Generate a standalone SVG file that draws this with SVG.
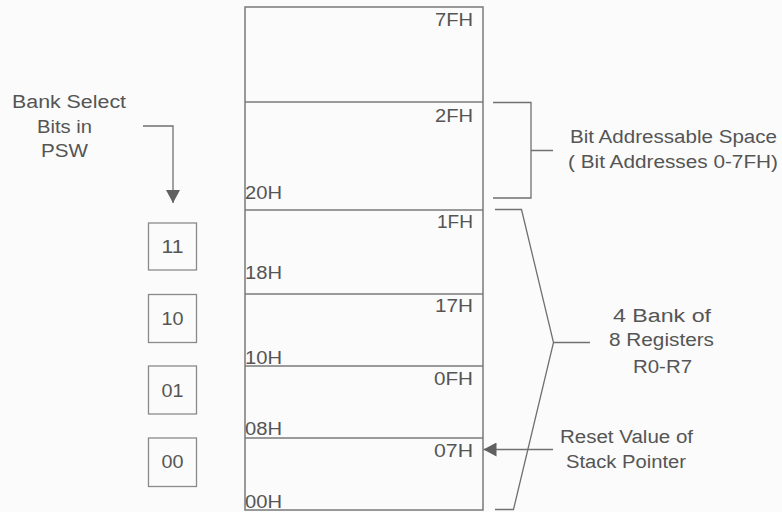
<svg xmlns="http://www.w3.org/2000/svg" width="782" height="512" viewBox="0 0 782 512">
<style>
text{font-family:"Liberation Sans",Arial,sans-serif;fill:#555;font-size:18px}
.m{font-size:17.5px}
.ln{fill:none;stroke:#7a7a7a;stroke-width:1.5}
.br{fill:none;stroke:#707070;stroke-width:1.3}
.bx{fill:none;stroke:#8a8a8a;stroke-width:1.3}
.c{text-anchor:middle}
</style>
<defs>
<marker id="ah" markerWidth="14" markerHeight="14" refX="13" refY="7" orient="auto" markerUnits="userSpaceOnUse">
<path d="M0,0 L13,7 L0,14 Z" fill="#606060"/>
</marker>
</defs>
<rect width="782" height="512" fill="#fbfbfb"/>

<g id="memory">
<rect class="ln" x="245" y="7" width="238" height="503"/>
<line class="ln" x1="245" y1="102" x2="483" y2="102"/>
<line class="ln" x1="245" y1="210" x2="483" y2="210"/>
<line class="ln" x1="245" y1="294" x2="483" y2="294"/>
<line class="ln" x1="245" y1="366" x2="483" y2="366"/>
<line class="ln" x1="245" y1="438" x2="483" y2="438"/>
<text class="m" x="435" y="26" textLength="38" lengthAdjust="spacingAndGlyphs">7FH</text>
<text class="m" x="435" y="122" textLength="38" lengthAdjust="spacingAndGlyphs">2FH</text>
<text class="m" x="245" y="199" textLength="37" lengthAdjust="spacingAndGlyphs">20H</text>
<text class="m" x="437" y="228" textLength="36" lengthAdjust="spacingAndGlyphs">1FH</text>
<text class="m" x="245" y="279" textLength="37" lengthAdjust="spacingAndGlyphs">18H</text>
<text class="m" x="435" y="312" textLength="38" lengthAdjust="spacingAndGlyphs">17H</text>
<text class="m" x="245" y="364" textLength="37" lengthAdjust="spacingAndGlyphs">10H</text>
<text class="m" x="434" y="385" textLength="39" lengthAdjust="spacingAndGlyphs">0FH</text>
<text class="m" x="245" y="435" textLength="37" lengthAdjust="spacingAndGlyphs">08H</text>
<text class="m" x="434" y="457" textLength="39" lengthAdjust="spacingAndGlyphs">07H</text>
<text class="m" x="245" y="508" textLength="37" lengthAdjust="spacingAndGlyphs">00H</text>
</g>

<g id="bank-select-label">
<text x="12" y="108" textLength="114" lengthAdjust="spacingAndGlyphs">Bank  Select</text>
<text x="37" y="133" textLength="55" lengthAdjust="spacingAndGlyphs">Bits in</text>
<text x="41" y="157" textLength="47" lengthAdjust="spacingAndGlyphs">PSW</text>
</g>

<g id="box-11"><rect class="bx" x="148.5" y="223" width="48" height="47"/><text class="c" x="172.5" y="253" textLength="22" lengthAdjust="spacingAndGlyphs">11</text></g>
<g id="box-10"><rect class="bx" x="148.5" y="294.5" width="48" height="48"/><text class="c" x="172.5" y="325" textLength="22" lengthAdjust="spacingAndGlyphs">10</text></g>
<g id="box-01"><rect class="bx" x="148.5" y="366" width="48" height="48"/><text class="c" x="172.5" y="396.5" textLength="22" lengthAdjust="spacingAndGlyphs">01</text></g>
<g id="box-00"><rect class="bx" x="148.5" y="438" width="48" height="48.5"/><text class="c" x="172.5" y="468" textLength="22" lengthAdjust="spacingAndGlyphs">00</text></g>

<g id="bit-space-label">
<text x="570" y="143" textLength="207" lengthAdjust="spacingAndGlyphs">Bit Addressable Space</text>
<text x="568" y="168" textLength="210" lengthAdjust="spacingAndGlyphs">( Bit Addresses 0-7FH)</text>
</g>

<g id="register-banks-label">
<text x="613" y="322" textLength="98" lengthAdjust="spacingAndGlyphs">4  Bank  of</text>
<text x="609" y="346" textLength="105" lengthAdjust="spacingAndGlyphs">8 Registers</text>
<text x="633" y="372.5" textLength="59" lengthAdjust="spacingAndGlyphs">R0-R7</text>
</g>

<g id="stack-pointer-label">
<text x="560" y="442.5" textLength="133" lengthAdjust="spacingAndGlyphs">Reset Value of</text>
<text x="566" y="468" textLength="120" lengthAdjust="spacingAndGlyphs">Stack Pointer</text>
</g>

<g id="connectors">
<path class="br" d="M143,126 H173 V203" marker-end="url(#ah)"/>
<path class="br" d="M493,102.5 H531 V198 H493 M531,150.5 H553"/>
<path class="br" d="M495,209.5 H521.5 L553.5,342.5 L513.5,509.5 H495 M553.5,342.5 H590"/>
<path class="br" d="M553,449.5 H483.5" marker-end="url(#ah)"/>
</g>
</svg>
